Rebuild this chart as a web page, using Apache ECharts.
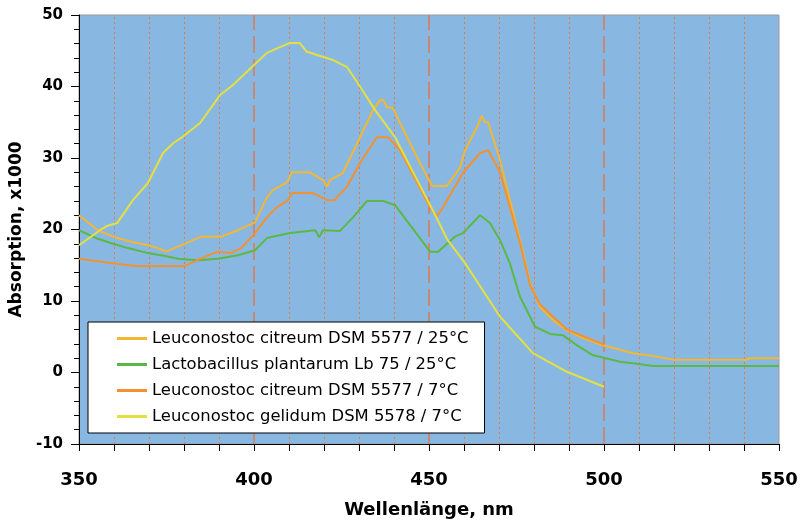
<!DOCTYPE html>
<html>
<head>
<meta charset="utf-8">
<script src="https://cdn.jsdelivr.net/npm/echarts@6/dist/echarts.min.js"></script>
<style>
  html, body { margin: 0; padding: 0; background: #fff; }
  #chart { width: 801px; height: 524px; }
</style>
</head>
<body>
<div id="chart"></div>
<script>
// Leuconostoc citreum DSM 5577 / 25°C
const citreum25Nm = [350, 355.4, 359.7, 364, 369.7, 372.6, 374.9, 378.3, 384.9, 390.6, 395.4, 400.3, 403.7, 405.4, 409.4, 410.9, 416, 419.7, 420.9, 421.7, 425.4, 430.3, 434, 436, 437, 438, 439.7, 441.7, 447.4, 450.9, 455.1, 458.9, 460.3, 463.7, 465.1, 466, 466.9, 470.3, 476, 478.9, 481.7, 485, 489.4, 494, 499.7, 508.3, 514, 519.7, 540.9, 541.5, 550];
const citreum25Abs = [22.0, 19.9, 19.0, 18.4, 17.8, 17.4, 16.9, 17.6, 19.0, 19.0, 19.9, 21.0, 24.5, 25.5, 26.6, 28.0, 28.0, 26.9, 26.0, 26.9, 27.9, 32.9, 36.7, 38.1, 38.1, 37.1, 37.0, 34.9, 29.3, 26.1, 26.1, 28.7, 31.1, 34.3, 35.9, 35.0, 35.0, 29.7, 18.5, 12.5, 9.2, 7.5, 5.9, 4.8, 3.8, 2.7, 2.3, 1.8, 1.8, 2.0, 2.0];

// Lactobacillus plantarum Lb 75 / 25°C
const plantarumNm = [350, 355.4, 359.7, 364, 369.7, 374.6, 378.3, 384, 389.7, 395.4, 400.3, 403.7, 410.3, 417.4, 418, 418.6, 419.7, 424.6, 428.3, 432.3, 436.9, 440.3, 445.1, 450.3, 452.6, 457.4, 459.7, 464.6, 467.4, 470.3, 473.1, 476, 480.3, 484.6, 488.3, 492.3, 496.9, 504.6, 508.3, 514, 550];
const plantarumAbs = [19.9, 18.7, 18.0, 17.4, 16.7, 16.3, 15.9, 15.7, 15.9, 16.4, 17.1, 18.8, 19.5, 19.9, 19.5, 18.9, 19.9, 19.8, 21.7, 24.0, 24.0, 23.4, 20.3, 16.9, 16.9, 19.0, 19.5, 22.0, 20.9, 18.5, 15.3, 10.6, 6.4, 5.4, 5.2, 3.8, 2.4, 1.5, 1.3, 0.9, 0.9];

// Leuconostoc citreum DSM 5577 / 7°C
const citreum7Nm = [350, 359, 366, 380.3, 386, 389.7, 393.4, 396.3, 400.3, 403.7, 406.6, 409.7, 410.9, 416.9, 420.9, 423, 426.6, 430.3, 435.1, 438.3, 441.7, 447.4, 450.3, 452.3, 454, 459.7, 464.6, 466.9, 470.3, 476, 478.9, 481.7, 489.4, 500];
const citreum7Abs = [15.9, 15.3, 14.9, 14.9, 16.2, 16.9, 16.7, 17.4, 19.5, 21.7, 23.1, 24.1, 25.1, 25.1, 24.1, 24.1, 26.0, 29.3, 32.9, 32.9, 31.1, 25.8, 23.1, 21.9, 23.1, 27.9, 30.7, 31.1, 28.0, 18.1, 12.2, 9.5, 6.0, 3.9];

// Leuconostoc gelidum DSM 5578 / 7°C
const gelidumNm = [350, 356, 358, 360.9, 365.4, 369.7, 374, 377, 379.7, 384.6, 390.3, 394, 400, 403.7, 407.4, 410.3, 413, 415, 418, 422.6, 426.6, 430.3, 434.6, 440.3, 446, 451.7, 455.1, 460.3, 470.3, 479.7, 489.4, 500];
const gelidumAbs = [17.8, 19.9, 20.5, 20.9, 24.1, 26.5, 30.7, 32.1, 33.0, 34.9, 38.8, 40.2, 43.0, 44.7, 45.5, 46.1, 46.1, 44.9, 44.4, 43.7, 42.7, 40.0, 36.7, 32.9, 27.5, 22.1, 18.7, 15.3, 7.8, 2.7, 0.1, -2.0];

const seriesNames = [
  'Leuconostoc citreum DSM 5577 / 25°C',
  'Lactobacillus plantarum Lb 75 / 25°C',
  'Leuconostoc citreum DSM 5577 / 7°C',
  'Leuconostoc gelidum DSM 5578 / 7°C'
];
const seriesColors = ['#f2b733', '#5cb845', '#f39131', '#e4e13e'];

// vertical grid lines
const dottedLines = [360, 370, 380, 390, 410, 420, 430, 440, 460, 470, 480, 490, 510, 520, 530, 540];
const dashedLines = [400, 450, 500];

const FONT = 'DejaVu Sans, Verdana, sans-serif';

const pairs = (xs, ys) => xs.map((x, i) => [x, ys[i]]);
const seriesData = [
  pairs(citreum25Nm, citreum25Abs),
  pairs(plantarumNm, plantarumAbs),
  pairs(citreum7Nm, citreum7Abs),
  pairs(gelidumNm, gelidumAbs)
];

const chart = echarts.init(document.getElementById('chart'));

const gridMarks = dottedLines.map(v => ({ xAxis: v, lineStyle: { type: [2, 3], color: '#ec7640', width: 1 } }))
  .concat(dashedLines.map(v => ({ xAxis: v, lineStyle: { type: [17, 6], color: '#dc7a52', width: 1.5 } })));

const lineSeries = seriesNames.map((name, i) => ({
  name,
  type: 'line',
  data: seriesData[i],
  showSymbol: false,
  symbol: 'none',
  z: 3,
  lineStyle: { color: seriesColors[i], width: 2 },
  itemStyle: { color: seriesColors[i] }
}));

chart.setOption({
  backgroundColor: '#ffffff',
  animation: false,
  textStyle: { fontFamily: FONT },
  grid: {
    left: 79, top: 15, right: 22, bottom: 80,
    show: true,
    backgroundColor: '#88b8e2',
    borderColor: '#9a9a9a',
    borderWidth: 1
  },
  legend: {
    orient: 'vertical',
    left: 88,
    top: 322,
    z: 20,
    data: seriesNames,
    backgroundColor: '#ffffff',
    borderColor: '#000000',
    borderWidth: 1,
    borderRadius: 0,
    padding: [8, 16, 8, 29],
    itemGap: 9,
    itemWidth: 30,
    itemHeight: 3,
    icon: 'rect',
    textStyle: { fontSize: 16.4, color: '#000', lineHeight: 17, fontFamily: FONT }
  },
  xAxis: {
    type: 'value',
    min: 350, max: 550, interval: 10,
    name: 'Wellenlänge, nm',
    nameLocation: 'middle',
    nameGap: 57,
    nameTextStyle: { fontSize: 18, fontWeight: 'bold', color: '#000', fontFamily: FONT },
    axisLine: { onZero: false, lineStyle: { color: '#000', width: 1 } },
    axisTick: { show: true, length: 7, lineStyle: { color: '#000' } },
    axisLabel: {
      margin: 27,
      fontSize: 18, fontWeight: 'bold', color: '#000', fontFamily: FONT,
      formatter: v => (v % 50 === 0 ? String(v) : '')
    },
    splitLine: { show: false }
  },
  yAxis: {
    type: 'value',
    min: -10, max: 50, interval: 10,
    name: 'Absorption, x1000',
    nameLocation: 'middle',
    nameGap: 48,
    nameTextStyle: { fontSize: 17, fontWeight: 'bold', color: '#000', fontFamily: FONT },
    axisLine: { show: true, onZero: false, lineStyle: { color: '#000', width: 1 } },
    axisTick: { show: true, length: 8, lineStyle: { color: '#000' } },
    minorTick: { show: true, splitNumber: 5, length: 5, lineStyle: { color: '#000' } },
    axisLabel: { margin: 16, fontSize: 15, fontWeight: 'bold', color: '#000', fontFamily: FONT },
    splitLine: { show: false }
  },
  series: [
    {
      name: 'grid',
      type: 'line',
      data: [],
      z: 1,
      silent: true,
      markLine: {
        z: 1,
        silent: true,
        symbol: 'none',
        label: { show: false },
        animation: false,
        data: gridMarks
      }
    }
  ].concat(lineSeries)
});
</script>
</body>
</html>
